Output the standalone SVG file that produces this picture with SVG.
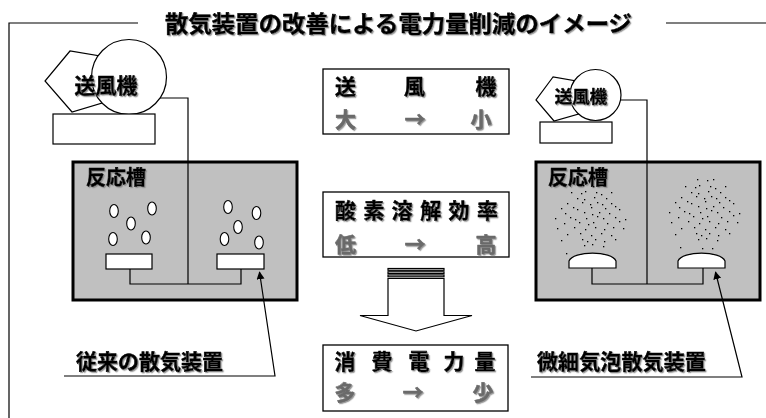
<svg xmlns="http://www.w3.org/2000/svg" xmlns:xlink="http://www.w3.org/1999/xlink" width="766" height="418" viewBox="0 0 766 418">
  <defs>
    <style>
      .ln { fill: none; stroke: #000; stroke-width: 1.2; }
      .box { fill: #fff; stroke: #000; stroke-width: 1.3; }
      .tank { fill: #c0c0c0; stroke: #000; stroke-width: 3; }
      .wht { fill: #fff; stroke: #000; stroke-width: 1.2; }
      .bub { fill: #fff; stroke: #000; stroke-width: 1.1; }
      .jp { font-family: "Noto Sans CJK JP", "Noto Sans CJK SC", sans-serif; font-weight: 700; stroke-width: 0.55; stroke-linejoin: round; }
      .blk { fill: #000; stroke: #000; }
      .gry { fill: #6a6a6a; stroke: #6a6a6a; }
      .dot { fill: #000; }
    </style>
    <filter id="shade" x="-5%" y="-20%" width="115%" height="150%">
      <feDropShadow dx="1.2" dy="1.2" stdDeviation="0.5" flood-color="#888" flood-opacity="0.85"/>
    </filter>
    <marker id="tip" viewBox="0 0 10 10" refX="9" refY="5" markerWidth="8" markerHeight="8" markerUnits="userSpaceOnUse" orient="auto">
      <path d="M0,0 L10,5 L0,10 Z" fill="#000"/>
    </marker>
    <!-- fine-bubble cloud, reused above both diffusers of the fine-bubble tank -->
    <g id="fine">
      <rect class="dot" x="-9" y="-31" width="1.3" height="1.3"/><rect class="dot" x="1" y="-30" width="1.3" height="1.3"/><rect class="dot" x="7" y="-31" width="1.3" height="1.3"/>
      <rect class="dot" x="-21" y="-24" width="1.3" height="1.3"/><rect class="dot" x="-11" y="-23" width="1.3" height="1.3"/><rect class="dot" x="-7" y="-25" width="1.3" height="1.3"/><rect class="dot" x="4" y="-24" width="1.3" height="1.3"/><rect class="dot" x="9" y="-22" width="1.3" height="1.3"/><rect class="dot" x="19" y="-24" width="1.3" height="1.3"/>
      <rect class="dot" x="-15" y="-18" width="1.3" height="1.3"/><rect class="dot" x="-8" y="-17" width="1.3" height="1.3"/><rect class="dot" x="2" y="-19" width="1.3" height="1.3"/><rect class="dot" x="14" y="-18" width="1.3" height="1.3"/>
      <rect class="dot" x="-25" y="-13" width="1.3" height="1.3"/><rect class="dot" x="-10" y="-14" width="1.3" height="1.3"/><rect class="dot" x="-2" y="-12" width="1.3" height="1.3"/><rect class="dot" x="5" y="-14" width="1.3" height="1.3"/><rect class="dot" x="10" y="-12" width="1.3" height="1.3"/><rect class="dot" x="19" y="-13" width="1.3" height="1.3"/>
      <rect class="dot" x="-31" y="-8" width="1.3" height="1.3"/><rect class="dot" x="-19" y="-9" width="1.3" height="1.3"/><rect class="dot" x="-15" y="-7" width="1.3" height="1.3"/><rect class="dot" x="-1" y="-9" width="1.3" height="1.3"/><rect class="dot" x="13" y="-8" width="1.3" height="1.3"/><rect class="dot" x="23" y="-10" width="1.3" height="1.3"/><rect class="dot" x="27" y="-7" width="1.3" height="1.3"/>
      <rect class="dot" x="-27" y="-3" width="1.3" height="1.3"/><rect class="dot" x="-8" y="-4" width="1.3" height="1.3"/><rect class="dot" x="0" y="-2" width="1.3" height="1.3"/><rect class="dot" x="7" y="-4" width="1.3" height="1.3"/><rect class="dot" x="17" y="-3" width="1.3" height="1.3"/>
      <rect class="dot" x="-37" y="2" width="1.3" height="1.3"/><rect class="dot" x="-22" y="1" width="1.3" height="1.3"/><rect class="dot" x="-17" y="3" width="1.3" height="1.3"/><rect class="dot" x="-6" y="2" width="1.3" height="1.3"/><rect class="dot" x="5" y="0" width="1.3" height="1.3"/><rect class="dot" x="11" y="2" width="1.3" height="1.3"/><rect class="dot" x="23" y="1" width="1.3" height="1.3"/><rect class="dot" x="33" y="3" width="1.3" height="1.3"/>
      <rect class="dot" x="-28" y="7" width="1.3" height="1.3"/><rect class="dot" x="-13" y="6" width="1.3" height="1.3"/><rect class="dot" x="-4" y="8" width="1.3" height="1.3"/><rect class="dot" x="1" y="6" width="1.3" height="1.3"/><rect class="dot" x="15" y="7" width="1.3" height="1.3"/><rect class="dot" x="27" y="5" width="1.3" height="1.3"/>
      <rect class="dot" x="-35" y="12" width="1.3" height="1.3"/><rect class="dot" x="-18" y="11" width="1.3" height="1.3"/><rect class="dot" x="-7" y="13" width="1.3" height="1.3"/><rect class="dot" x="3" y="11" width="1.3" height="1.3"/><rect class="dot" x="12" y="13" width="1.3" height="1.3"/><rect class="dot" x="21" y="11" width="1.3" height="1.3"/><rect class="dot" x="31" y="12" width="1.3" height="1.3"/>
      <rect class="dot" x="-25" y="18" width="1.3" height="1.3"/><rect class="dot" x="-12" y="17" width="1.3" height="1.3"/><rect class="dot" x="-1" y="19" width="1.3" height="1.3"/><rect class="dot" x="9" y="17" width="1.3" height="1.3"/><rect class="dot" x="19" y="19" width="1.3" height="1.3"/>
      <rect class="dot" x="-31" y="24" width="1.3" height="1.3"/><rect class="dot" x="-10" y="23" width="1.3" height="1.3"/><rect class="dot" x="-5" y="25" width="1.3" height="1.3"/><rect class="dot" x="3" y="23" width="1.3" height="1.3"/><rect class="dot" x="12" y="25" width="1.3" height="1.3"/><rect class="dot" x="23" y="23" width="1.3" height="1.3"/>
      <rect class="dot" x="-8" y="29" width="1.3" height="1.3"/><rect class="dot" x="0" y="28" width="1.3" height="1.3"/><rect class="dot" x="11" y="30" width="1.3" height="1.3"/>
      <rect class="dot" x="-26" y="37" width="1.3" height="1.3"/><rect class="dot" x="-4" y="38" width="1.3" height="1.3"/><rect class="dot" x="6" y="38" width="1.3" height="1.3"/>
    </g>
  </defs>

  <rect width="766" height="418" fill="#fff"/>

  <!-- title and frame -->
  <g id="title">
    <path class="ln" d="M138,23 H9 V418 M666,23 H766"/>
    <text class="jp blk" x="165" y="31.5" font-size="22.5" textLength="467" lengthAdjust="spacingAndGlyphs" filter="url(#shade)">散気装置の改善による電力量削減のイメージ</text>
  </g>

  <!-- reaction tanks -->
  <g id="tank-conventional">
    <rect class="tank" x="73" y="162" width="224" height="138"/>
    <text class="jp blk" x="86" y="185" font-size="20" filter="url(#shade)">反応槽</text>
    <ellipse class="bub" cx="114" cy="211" rx="4.3" ry="6.5"/>
    <ellipse class="bub" cx="152" cy="208.5" rx="4.3" ry="6.5"/>
    <ellipse class="bub" cx="131" cy="223.5" rx="4.3" ry="6.5"/>
    <ellipse class="bub" cx="113" cy="239" rx="4.3" ry="6.5"/>
    <ellipse class="bub" cx="146" cy="237.5" rx="4.3" ry="6.5"/>
    <ellipse class="bub" cx="228" cy="207" rx="4.3" ry="6.5"/>
    <ellipse class="bub" cx="256.5" cy="213" rx="4.3" ry="6.5"/>
    <ellipse class="bub" cx="238" cy="227" rx="4.3" ry="6.5"/>
    <ellipse class="bub" cx="224.5" cy="239" rx="4.3" ry="6.5"/>
    <ellipse class="bub" cx="259" cy="242.5" rx="4.3" ry="6.5"/>
  </g>

  <g id="tank-fine">
    <rect class="tank" x="536" y="162" width="224" height="138"/>
    <text class="jp blk" x="548" y="185" font-size="20" filter="url(#shade)">反応槽</text>
    <use xlink:href="#fine" href="#fine" transform="translate(592,216)"/>
    <use xlink:href="#fine" href="#fine" transform="translate(706,210)"/>
  </g>

  <!-- air piping and pointer lines -->
  <g id="connectors">
    <path class="ln" d="M158,98 H188 V284 M130,268 V284 H241 V268"/>
    <path class="ln" d="M618,100 H647 V284 M592,267 V284 H703 V267"/>
    <path class="ln" d="M64,376 H275 L259.5,272" marker-end="url(#tip)"/>
    <path class="ln" d="M531,377 H742 L715.5,272" marker-end="url(#tip)"/>
  </g>

  <!-- blowers -->
  <g id="blower-left">
    <polygon class="wht" points="70,51 45,81 72,112 112,100 112,58"/>
    <circle class="wht" cx="129" cy="77" r="37.5"/>
    <rect class="wht" x="53" y="114" width="102" height="30"/>
    <text class="jp blk" x="106" y="92.5" font-size="21" text-anchor="middle" filter="url(#shade)">送風機</text>
  </g>

  <g id="blower-right">
    <polygon class="wht" points="553,77 536,100 554,121 582,113 582,82"/>
    <circle class="wht" cx="595.5" cy="95" r="25.5"/>
    <rect class="wht" x="540" y="122" width="72" height="21"/>
    <text class="jp blk" x="581" y="103" font-size="17.5" text-anchor="middle" filter="url(#shade)">送風機</text>
  </g>

  <!-- diffusers -->
  <g id="diffuser-conventional">
    <rect class="wht" x="106" y="254" width="46" height="15"/>
    <rect class="wht" x="217" y="254" width="47" height="15"/>
  </g>
  <g id="diffuser-fine">
    <path class="wht" d="M569,268 L569,261 C573,250.5 612,250.5 616,261 L616,268 Z"/>
    <path class="wht" d="M678,268 L678,261 C682,250.5 721,250.5 725,261 L725,268 Z"/>
  </g>

  <!-- pointer labels -->
  <g id="label-conventional">
    <text class="jp blk" x="76" y="368.5" font-size="21" textLength="147" lengthAdjust="spacingAndGlyphs" filter="url(#shade)">従来の散気装置</text>
  </g>
  <g id="label-fine">
    <text class="jp blk" x="537" y="368.5" font-size="21" textLength="169" lengthAdjust="spacingAndGlyphs" filter="url(#shade)">微細気泡散気装置</text>
  </g>

  <!-- comparison boxes -->
  <g id="box-blower">
    <rect class="box" x="323" y="69" width="186" height="65"/>
    <text class="jp blk" font-size="21" text-anchor="middle" x="345.5 414.5 486" y="94" filter="url(#shade)">送風機</text>
    <text class="jp gry" font-size="21" text-anchor="middle" x="345.5 415 481" y="126.5" filter="url(#shade)">大→小</text>
  </g>

  <g id="box-oxygen">
    <rect class="box" x="323" y="192" width="186" height="65"/>
    <text class="jp blk" font-size="21" text-anchor="middle" x="345.5 373.9 402.3 430.7 459.1 487.5" y="218" filter="url(#shade)">酸素溶解効率</text>
    <text class="jp gry" font-size="21" text-anchor="middle" x="345.5 415 486" y="251.5" filter="url(#shade)">低→高</text>
  </g>

  <g id="arrow-down">
    <rect class="wht" x="388" y="268.5" width="56" height="1.8" stroke-width="0.9"/>
    <rect class="wht" x="388" y="271.8" width="56" height="1.8" stroke-width="0.9"/>
    <rect class="wht" x="388" y="275" width="56" height="1.8" stroke-width="0.9"/>
    <polygon class="wht" points="388,278.5 444,278.5 444,315.5 472,315.5 416,331 360,315.5 388,315.5"/>
  </g>

  <g id="box-power">
    <rect class="box" x="323" y="345" width="185" height="66"/>
    <text class="jp blk" font-size="21" text-anchor="middle" x="345 382 419 454 485" y="368.5" filter="url(#shade)">消費電力量</text>
    <text class="jp gry" font-size="21" text-anchor="middle" x="345 413 483" y="399.5" filter="url(#shade)">多→少</text>
  </g>
</svg>
